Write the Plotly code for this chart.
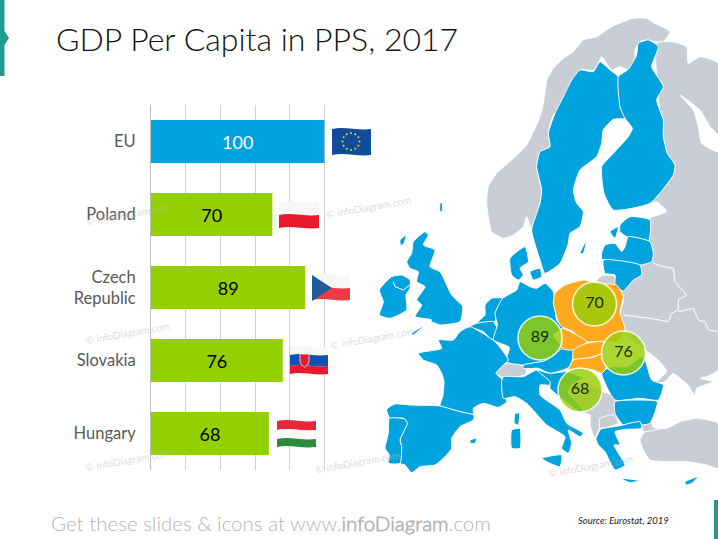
import math
import plotly.graph_objects as go

# chart data
countries = ["EU", "Poland", "Czech<br>Republic", "Slovakia", "Hungary"]
gdp_values = [100, 70, 89, 76, 68]
bar_colors = ["#00A3DD", "#92D000", "#92D000", "#92D000", "#92D000"]
label_colors = ["white", "black", "black", "black", "black"]

# bubbles on the map, same values as the bars
bubble_values = [70, 89, 76, 68]
bubble_x = [594.5, 540, 623.5, 580]
bubble_y = [304, 338, 353, 390]

BLUE = "#00A3DD"
GREY = "#C9CED6"
ORANGE = "#FFA91F"
WIDTH = 718
HEIGHT = 539


def crop(x0, y0, pts):
    # outlines were traced on 3x crops of the slide, bring them back to slide pixels
    return [(x0 + x / 3, y0 + y / 3) for x, y in pts]


def ca(pts):
    return crop(370, 225, pts)


def cb(pts):
    return crop(540, 225, pts)


def cc(pts):
    return crop(370, 350, pts)


def cd(pts):
    return crop(540, 350, pts)


def cn(pts):
    return crop(540, 0, pts)


def cs(pts):
    return crop(380, 30, pts)


def cz(pts):
    return crop(380, 270, pts)


# grey countries
norway = cn([(20, 240), (40, 205), (70, 175), (100, 155), (130, 120), (170, 110), (215, 80), (280, 55), (320, 55),
             (345, 70), (390, 95), (370, 125), (345, 125), (325, 120), (300, 125), (285, 150), (285, 180), (265, 210),
             (240, 200), (215, 210), (185, 170), (165, 210), (125, 210), (100, 240), (75, 290), (65, 320), (40, 345)]) \
    + cs([(505, 310), (510, 350), (480, 365), (470, 410), (485, 480), (480, 520), (455, 595), (440, 560), (430, 590),
          (400, 615), (370, 625), (335, 605), (320, 520), (325, 470), (350, 430), (400, 385), (440, 345), (480, 260),
          (490, 220), (500, 150)])
east_europe = cn([(350, 130), (395, 125), (440, 140), (445, 190), (480, 170), (534, 190)]) + [(718, 370)] \
    + cd([(500, 80), (480, 85), (520, 95), (470, 115), (465, 135), (440, 100), (420, 85), (400, 70), (375, 95),
          (345, 100), (380, 65), (355, 30), (315, 0)]) \
    + cb([(250, 320), (240, 260), (250, 230), (240, 190), (230, 150)]) \
    + cs([(805, 640), (810, 565), (860, 545), (830, 515), (810, 520), (850, 430)])
white_sea = cs([(900, 195), (960, 240), (990, 290), (1014, 315), (1014, 365), (965, 340), (955, 290), (940, 240)])
turkey = cd([(300, 270), (320, 240), (380, 235), (420, 215), (470, 205), (534, 220), (534, 355), (500, 345), (440, 335),
             (380, 335), (330, 330), (310, 300)])
thrace = cd([(305, 210), (330, 205), (340, 232), (362, 235), (310, 245)])
balkans = cd([(70, 75), (130, 100), (190, 125), (225, 140), (225, 175), (235, 205), (235, 225), (180, 235), (165, 265),
              (150, 225), (150, 195), (125, 185)])
macedonia = cd([(180, 205), (220, 195), (235, 220), (180, 235)])
switzerland = cc([(378, 70), (400, 45), (435, 30), (470, 60), (465, 75), (440, 80), (420, 85), (395, 80)])
kaliningrad = cb([(170, 165), (190, 150), (225, 155), (225, 180), (170, 175)])
grey_lands = [norway, east_europe, turkey, thrace, balkans, macedonia, switzerland, kaliningrad]

# EU countries in blue
sweden = cs([(660, 95), (690, 120), (715, 140), (720, 230), (735, 265), (700, 268), (670, 300), (665, 340), (650, 380),
             (600, 420), (580, 480), (590, 520), (610, 545), (600, 590), (570, 610), (565, 640), (540, 700), (495, 730),
             (480, 690), (455, 600), (480, 520), (485, 480), (470, 410), (480, 365), (510, 350), (505, 310), (525, 250),
             (555, 190), (575, 150), (600, 120), (640, 125)])
finland = cs([(775, 40), (805, 30), (835, 50), (815, 110), (850, 170), (830, 210), (850, 270), (850, 320), (862, 370),
              (885, 405), (880, 435), (810, 520), (700, 540), (672, 490), (665, 410), (700, 370), (745, 320), (757, 295),
              (735, 265), (720, 230), (715, 140), (745, 118), (770, 75)])
estonia = cs([(720, 585), (750, 560), (810, 570), (805, 635), (740, 620), (720, 605)])
latvia = cb([(185, 105), (185, 85), (195, 60), (225, 55), (245, 80), (255, 65), (265, 35), (330, 50), (340, 85),
             (335, 110), (300, 120), (190, 103)])
lithuania = cb([(190, 105), (300, 120), (305, 150), (280, 165), (250, 198), (225, 180), (225, 150), (195, 145)])
gotland = cs([(600, 670), (620, 630), (610, 670)])
saaremaa = cs([(690, 605), (715, 590), (705, 625)])
shetland = cs([(180, 520), (187, 518), (186, 545), (180, 545)])
hebrides = ca([(90, 45), (108, 30), (102, 55), (92, 62)])
great_britain = ca([(130, 50), (165, 20), (175, 30), (160, 60), (195, 75), (180, 125), (210, 140), (245, 210), (278, 245),
                    (270, 290), (210, 300), (180, 290), (130, 330), (125, 325), (185, 285), (135, 275), (155, 240),
                    (140, 225), (165, 185), (140, 170), (145, 140), (120, 130), (110, 110), (125, 85)])
ireland = ca([(28, 195), (65, 155), (95, 150), (120, 165), (120, 190), (108, 210), (110, 255), (60, 280), (28, 270),
              (40, 230)])
denmark = ca([(420, 100), (465, 65), (475, 110), (450, 130), (460, 150), (445, 165), (425, 150)])
zealand = ca([(480, 140), (510, 130), (515, 155), (490, 165)])
netherlands = ca([(345, 240), (365, 220), (398, 220), (385, 265), (370, 295), (320, 295), (345, 270)])
belgium = ca([(300, 305), (320, 295), (370, 290), (385, 320), (370, 350), (340, 320)])
germany = cz([(368, 85), (345, 130), (352, 165), (340, 210), (388, 232), (378, 275), (430, 285), (495, 272), (548, 235),
              (520, 195), (550, 175), (530, 150), (520, 65), (495, 40)]) \
    + ca([(500, 190), (480, 185), (450, 170), (440, 195)])
france = cc([(145, 10), (160, 30), (200, 45), (215, 70), (222, 95), (218, 140), (210, 168), (270, 185), (310, 195),
             (310, 175), (340, 160), (385, 172), (410, 155), (397, 125), (398, 90), (378, 70), (400, 45), (415, 30),
             (375, -25), (300, -70), (270, -55), (250, -30), (205, -30), (215, -5)])
spain = cc([(50, 178), (75, 162), (120, 165), (210, 168), (270, 185), (312, 195), (310, 210), (270, 230), (245, 265),
            (245, 295), (225, 320), (195, 345), (150, 350), (125, 368), (105, 345), (90, 340), (95, 290), (90, 270),
            (110, 220), (100, 205), (60, 205)])
portugal = cc([(58, 205), (105, 207), (112, 220), (90, 270), (95, 290), (90, 340), (55, 340), (58, 315), (45, 295),
               (55, 250)])
italy = cz([(365, 335), (370, 320), (430, 320), (470, 300), (510, 315), (510, 345), (480, 345), (480, 375), (540, 420),
            (560, 460), (610, 490), (600, 500), (565, 480), (575, 520), (565, 550), (545, 535), (555, 500), (500, 465),
            (440, 400), (405, 380), (370, 385)])
sicily = cz([(485, 565), (545, 555), (540, 590), (510, 580)])
sardinia = cz([(395, 480), (420, 475), (420, 535), (395, 535)])
corsica = cz([(405, 430), (418, 430), (415, 465), (403, 460)])
balearic = cz([(270, 510), (290, 505), (285, 520), (272, 520)])
cyprus = cz([(915, 635), (955, 620), (935, 640), (918, 645)])
crete = cz([(722, 625), (780, 632), (750, 638)])
austria = cz([(430, 285), (495, 272), (548, 235), (580, 240), (570, 290), (510, 310), (475, 295), (430, 295)])
croatia = cd([(-10, 60), (30, 70), (85, 65), (130, 85), (100, 100), (85, 125), (130, 180), (120, 185), (70, 150),
              (30, 115), (30, 95)])
romania = cz([(665, 310), (690, 290), (740, 290), (790, 260), (815, 330), (850, 345), (835, 390), (780, 385), (705, 390)])
bulgaria = cz([(705, 395), (780, 390), (832, 395), (810, 460), (780, 465), (730, 465), (705, 430)])
greece = cd([(168, 268), (182, 238), (235, 228), (300, 215), (305, 235), (260, 238), (225, 245), (240, 285), (222, 285),
             (235, 310), (255, 345), (225, 360), (205, 325), (195, 305), (175, 285)])
blue_lands = [sweden, finland, estonia, latvia, lithuania, gotland, saaremaa, shetland, hebrides, great_britain, ireland,
              denmark, zealand, netherlands, belgium, germany, france, spain, portugal, italy, sicily, sardinia, corsica,
              balearic, cyprus, crete, austria, croatia, romania, bulgaria, greece]

# the countries of the chart in orange
poland = cb([(45, 205), (75, 180), (130, 165), (170, 175), (230, 180), (250, 215), (240, 260), (255, 310), (250, 330),
             (230, 350), (170, 350), (125, 350), (100, 320), (65, 305), (55, 290), (40, 235)])
czechia = cz([(545, 175), (590, 195), (620, 215), (580, 240), (545, 235)])
slovakia = cz([(580, 240), (620, 220), (670, 215), (665, 250), (640, 260), (580, 270)])
hungary = cz([(580, 270), (640, 262), (665, 252), (680, 290), (665, 310), (640, 300), (600, 295), (565, 300)])
orange_lands = [poland, czechia, slovakia, hungary]

# white borders drawn inside the grey part
border_lines = [
    cb([(340, 115), (370, 125), (400, 130), (405, 170), (440, 210), (415, 225), (415, 255), (395, 265), (385, 290),
        (330, 280), (250, 270)]),
    cb([(415, 260), (460, 250), (475, 285), (495, 290), (505, 315), (534, 320)]),
    ca([(70, 170), (75, 185), (100, 195), (122, 178)]),
]

fig = go.Figure()

# bars, on their own axes placed where the chart sits in the slide
fig.add_trace(go.Bar(
    x=gdp_values,
    y=countries,
    orientation="h",
    width=0.59,
    marker=dict(color=bar_colors, line=dict(width=0)),
    text=gdp_values,
    textposition="inside",
    insidetextanchor="middle",
    textangle=0,
    insidetextfont=dict(family="Lato", size=18, color=label_colors),
    hoverinfo="skip",
    showlegend=False))


def add_land(pts, color):
    xs = [p[0] for p in pts] + [pts[0][0]]
    ys = [p[1] for p in pts] + [pts[0][1]]
    fig.add_trace(go.Scatter(
        x=xs, y=ys, xaxis="x2", yaxis="y2", mode="lines", fill="toself", fillcolor=color,
        line=dict(color="white", width=1, shape="spline", smoothing=0.5), hoverinfo="skip", showlegend=False))


for land in grey_lands:
    add_land(land, GREY)
add_land(white_sea, "white")
for land in blue_lands:
    add_land(land, BLUE)
for land in orange_lands:
    add_land(land, ORANGE)

for border in border_lines:
    fig.add_trace(go.Scatter(
        x=[p[0] for p in border], y=[p[1] for p in border], xaxis="x2", yaxis="y2", mode="lines",
        line=dict(color="white", width=1), hoverinfo="skip", showlegend=False))

# value bubbles on the map
fig.add_trace(go.Scatter(
    x=bubble_x, y=bubble_y, xaxis="x2", yaxis="y2", mode="markers+text",
    marker=dict(size=44, color="rgba(151,205,5,0.82)", line=dict(color="rgba(255,255,255,0.85)", width=1.5)),
    text=bubble_values, textposition="middle center",
    textfont=dict(family="Lato", size=16, color="#1A2A10"),
    hoverinfo="skip", showlegend=False))


def band(x0, x1, y0, y1, color):
    # one waving stripe of a flag
    w = x1 - x0
    return dict(
        type="path", xref="x2", yref="y2", fillcolor=color, line=dict(width=0), layer="above",
        path=f"M {x0} {y0} C {x0 + w / 3} {y0 - 3}, {x0 + 2 * w / 3} {y0 + 2}, {x1} {y0} "
             f"L {x1} {y1} C {x0 + 2 * w / 3} {y1 + 2}, {x0 + w / 3} {y1 - 3}, {x0} {y1} Z")


shapes = [
    # teal tabs of the slide
    dict(type="path", xref="x2", yref="y2", fillcolor="#1F9C8F", line=dict(width=0),
         path="M 0 0 L 4.5 0 L 4.5 31 L 9 38 L 4.5 45 L 4.5 76 L 0 76 Z"),
    dict(type="rect", xref="x2", yref="y2", x0=714, x1=718, y0=500, y1=539, fillcolor="#1F9C8F", line=dict(width=0)),
    # EU flag
    band(332, 371, 129, 155, "#0F4C9C"),
    # Poland
    band(279, 319, 202, 215, "#F7F7F7"),
    band(279, 319, 215, 228, "#E8192C"),
    # Czech Republic
    band(312, 350, 275, 288, "#F7F7F7"),
    band(312, 350, 288, 300, "#EE3B43"),
    dict(type="path", xref="x2", yref="y2", fillcolor="#1F5C99", line=dict(width=0), layer="above",
         path="M 312 275 L 332 288 L 312 301 Z"),
    # Slovakia
    band(290, 328, 347, 355, "#F7F7F7"),
    band(290, 328, 355, 366, "#0F52B5"),
    band(290, 328, 366, 374, "#E8192C"),
    dict(type="path", xref="x2", yref="y2", fillcolor="#E8192C", line=dict(color="white", width=0.7), layer="above",
         path="M 300 354 L 309 354 L 309 361 Q 309 365 304.5 367 Q 300 365 300 361 Z"),
    # Hungary
    band(277, 316, 421, 430, "#E8283A"),
    band(277, 316, 430, 439, "#F7F7F7"),
    band(277, 316, 439, 447, "#2E8B3D"),
]

# ring of stars of the EU flag, tiny enough to be dots
star_count = 12
for i in range(star_count):
    sx = 351 + 8.5 * math.cos(2 * math.pi * i / star_count)
    sy = 141.5 + 8.5 * math.sin(2 * math.pi * i / star_count)
    shapes.append(dict(type="circle", xref="x2", yref="y2", x0=sx - 1, x1=sx + 1, y0=sy - 1, y1=sy + 1,
                       fillcolor="#F5D327", line=dict(width=0), layer="above"))

annotations = [
    dict(text="GDP Per Capita in PPS, 2017", x=54, y=38, xanchor="left", yanchor="middle", showarrow=False,
         xref="x2", yref="y2", font=dict(family="Lato Light, Lato", size=32, color="#111111")),
    dict(text="Get these slides &amp; icons at www.<b>infoDiagram</b>.com", x=49, y=523, xanchor="left",
         yanchor="middle", showarrow=False, xref="x2", yref="y2",
         font=dict(family="Lato Light, Lato", size=20.5, color="#B5B5B5")),
    dict(text="<i>Source: Eurostat, 2019</i>", x=576, y=520, xanchor="left", yanchor="middle", showarrow=False,
         xref="x2", yref="y2", font=dict(family="Lato", size=9.5, color="#222222")),
]

# watermarks scattered over the slide
for wx, wy in [(128, 214), (368, 207), (127, 333), (372, 338), (127, 460), (357, 462), (590, 466)]:
    annotations.append(dict(
        text="© infoDiagram.com", x=wx, y=wy, textangle=-10, showarrow=False, xref="x2", yref="y2",
        font=dict(family="Lato", size=10, color="rgba(190,190,190,0.55)")))

fig.update_layout(
    width=WIDTH,
    height=HEIGHT,
    margin=dict(l=0, r=0, t=0, b=0),
    paper_bgcolor="white",
    plot_bgcolor="rgba(0,0,0,0)",
    font=dict(family="Lato"),
    bargap=0.41,
    shapes=shapes,
    annotations=annotations,
    # x=0 at px 151, x=120 at px 359
    xaxis=dict(domain=[151 / WIDTH, 359 / WIDTH], range=[0, 120], dtick=20, showgrid=True, gridcolor="#CFCFCF",
               gridwidth=1, zeroline=False, showticklabels=False, ticks="", anchor="y", fixedrange=True),
    yaxis=dict(domain=[1 - 470 / HEIGHT, 1 - 105 / HEIGHT], autorange="reversed", showline=True, linecolor="#BDBDBD",
               linewidth=1, ticks="outside", ticklen=11, tickcolor="rgba(0,0,0,0)", showgrid=False, anchor="x",
               tickfont=dict(family="Lato", size=16.5, color="#595959"), fixedrange=True),
    # slide pixel axes for the map and the decoration
    xaxis2=dict(domain=[0, 1], range=[0, WIDTH], visible=False, anchor="y2", fixedrange=True),
    yaxis2=dict(domain=[0, 1], range=[HEIGHT, 0], visible=False, anchor="x2", fixedrange=True),
)

fig.write_html("out.html", config=dict(displayModeBar=False), post_script="document.body.style.margin='0';")
